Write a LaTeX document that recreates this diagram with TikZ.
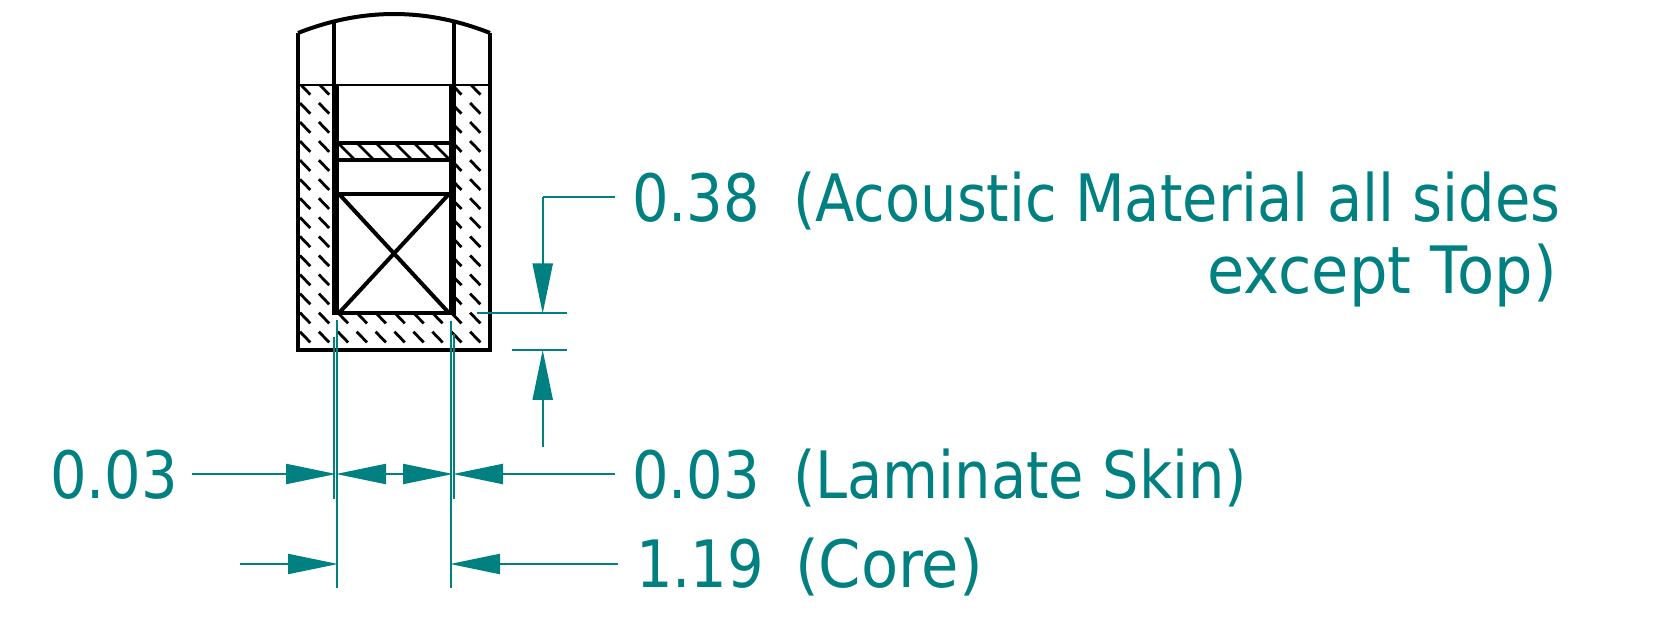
\documentclass[tikz,border=0pt]{standalone}
\usepackage{fontspec}
\setmainfont[FakeStretch=0.88]{DejaVu Sans}
\newfontfamily\widerface[FakeStretch=0.93]{DejaVu Sans}
\usetikzlibrary{arrows.meta}
\definecolor{dimteal}{HTML}{008080}
\tikzset{
  x=0.75pt,y=-0.75pt,
  outline/.style={draw=black,line width=3.4pt},
  thickwall/.style={draw=black,line width=5.6pt},
  midline/.style={draw=black,line width=3pt},
  fineline/.style={draw=black,line width=1.8pt},
  hatchline/.style={draw=black,line width=2.1pt},
  dim/.style={draw=dimteal,line width=1.6pt},
  dimarrow/.style={dim,-{Triangle[length=37.5pt,width=15pt,fill=dimteal]}},
  dimtext/.style={text=dimteal,font=\fontsize{49}{49}\selectfont,inner sep=0pt,outer sep=0pt},
  dimtextwide/.style={dimtext,font=\widerface\fontsize{49}{49}\selectfont}
}
\begin{document}
\begin{tikzpicture}
\useasboundingbox (0,0) rectangle (1667,634);
% hatching of the acoustic material
\begin{scope}
\clip (300,85) rectangle (488,348);
\foreach \c in {0,...,9}{
  \foreach \r in {-1,...,12}{
    \draw[hatchline] ({300+18.9*\c},{103+19.06*\r}) -- ++(10.3,10.7);
  }
}
\end{scope}
\fill[white] (335.5,85) rectangle (452.5,313);
% outer body
\coordinate (otl) at (298,33);
\coordinate (otr) at (490,33);
\coordinate (obl) at (298,350);
\coordinate (obr) at (490,350);
\coordinate (itl) at (334,20);
\coordinate (itr) at (454,20);
\draw[outline,line join=miter] (otl) -- (obl) -- (obr) -- (otr);
\draw[midline] (otl) .. controls (362,7.7) and (426,7.7) .. (otr);
\draw[midline] (itl) -- (334,85);
\draw[midline] (itr) -- (454,85);
\draw[fineline] (298,85) -- (490,85);
% core
\draw[thickwall] (335.5,85) -- (335.5,315);
\draw[thickwall] (452.5,85) -- (452.5,315);
\draw[midline] (339,313) -- (449,313);
\begin{scope}
\clip (339,143) rectangle (449,160);
\foreach \c in {0,...,5}{
  \draw[hatchline] ({321+19*\c},126) -- ++(34,34);
}
\end{scope}
\draw[midline] (339,143) -- (449,143);
\draw[midline] (339,160) -- (449,160);
\draw[midline] (339,194) -- (449,194);
\draw[midline] (339,194) -- (449,313);
\draw[midline] (449,194) -- (339,313);
% dimension lines
\coordinate (a1) at (615,197);
\coordinate (a2) at (542.7,197);
\coordinate (a3) at (542.7,313.5);
\coordinate (b1) at (542.7,447);
\coordinate (b2) at (542.7,350);
\draw[dim] (477,313) -- (567,313);
\draw[dim] (511.7,350) -- (567,350);
\draw[dim] (a1) -- (a2);
\draw[dimarrow] (a2) -- (a3);
\draw[dimarrow] (b1) -- (b2);
\draw[dim] (334.3,336.7) -- (334.3,499);
\draw[dim] (337,320) -- (337,588);
\draw[dim] (454,334) -- (454,499);
\draw[dim] (451.4,320.7) -- (451.4,588);
\coordinate (c1) at (192,474);
\coordinate (c2) at (336,474);
\coordinate (c3) at (453,474);
\coordinate (c4) at (615,474);
\draw[dimarrow] (c1) -- (c2);
\draw[dimarrow] (394.5,474) -- (c2);
\draw[dimarrow] (394.5,474) -- (c3);
\draw[dimarrow] (c4) -- (c3);
\coordinate (d1) at (240,564);
\coordinate (d2) at (338,564);
\coordinate (d3) at (450,564);
\coordinate (d4) at (618,564);
\draw[dimarrow] (d1) -- (d2);
\draw[dimarrow] (d4) -- (d3);
% labels
\node[dimtext,anchor=base west] (n1) at (632,221.5) {0.38};
\node[dimtext,anchor=base west] (t1) at (793,221.5) {(Acoustic Material all sides};
\node[dimtextwide,anchor=base east] (t2) at (1557,294) {except Top)};
\node[dimtext,anchor=base west] (n2) at (50,498) {0.03};
\node[dimtext,anchor=base west] (n3) at (632,498) {0.03};
\node[dimtext,anchor=base west] (t3) at (793,498) {(Laminate Skin)};
\node[dimtext,anchor=base west] (n4) at (636,587.5) {1.19};
\node[dimtextwide,anchor=base west] (t4) at (795,587.5) {(Core)};
\end{tikzpicture}
\end{document}
